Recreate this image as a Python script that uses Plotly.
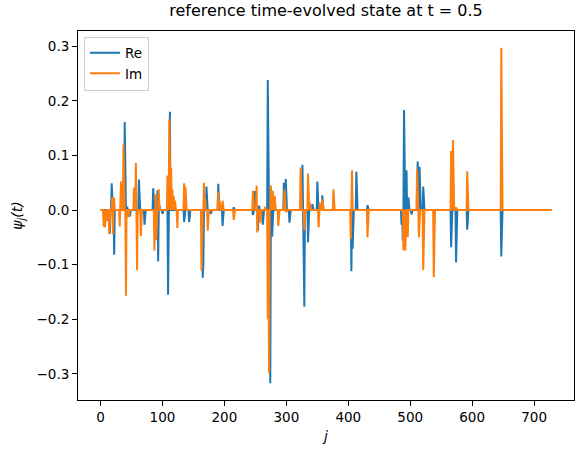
import numpy as np
import plotly.graph_objects as go

N = 729  # number of components j = 0..728

re_idx = [11, 15, 18, 22, 39, 43, 47, 62, 71, 85, 92, 93, 95, 100, 109, 112, 135, 143,
          165, 166, 171, 178, 190, 197, 215, 246, 249, 254, 256, 262, 270, 274, 277, 281,
          296, 299, 305, 326, 329, 335, 342, 350, 358, 405, 407, 413, 431, 486, 488, 490,
          494, 497, 502, 512, 515, 521, 566, 574, 592, 647]
re_val = [-0.020, -0.044, 0.049, -0.082, 0.161, 0.006, -0.012, 0.056, -0.027, 0.040, 0.036,
          -0.094, 0.010, -0.007, -0.155, 0.180, -0.022, -0.022,
          -0.124, -0.100, 0.043, -0.007, 0.048, -0.029, 0.005, -0.009, 0.035, -0.038, 0.008,
          -0.027, 0.238, -0.317, -0.049, 0.023,
          0.050, 0.057, -0.023, 0.083, -0.177, -0.059, 0.011, 0.052, 0.027, -0.112, -0.071,
          0.070, 0.009, -0.027, -0.056, 0.183,
          0.073, 0.023, -0.008, 0.089, 0.079, 0.043, -0.068, -0.096, -0.036, -0.085]

# Nonzero components of the imaginary part (index, value)
im_idx = [5, 7, 11, 14, 19, 20, 22, 31, 33, 37, 41, 45, 54, 57, 59, 65, 87, 89, 90, 94,
          108, 111, 114, 116, 118, 120, 124, 135, 137, 163, 167, 169, 173, 190, 192, 197,
          215, 246, 252, 253, 258, 266, 270, 272, 275, 278, 281, 287, 297, 300, 323, 329,
          335, 338, 352, 354, 358, 376, 404, 406, 431, 489, 492, 496, 511, 514, 521, 538,
          566, 569, 574, 592, 647]
im_val = [-0.030, -0.032, -0.018, -0.044, 0.023, -0.044, 0.023, -0.030, 0.052, 0.120,
          -0.157, -0.013, 0.041, 0.086, -0.110, -0.048, -0.074, 0.029, -0.055, 0.038,
          0.063, 0.166, 0.078, 0.038, 0.026, 0.017, -0.033, 0.049, 0.043, -0.111, 0.050,
          0.020, -0.038, 0.034, 0.017, 0.017,
          -0.018, 0.035, 0.045, -0.041, -0.023, 0.006, -0.200, -0.298, 0.045, 0.035, 0.026,
          -0.029, 0.037, -0.004, 0.078, -0.038,
          0.067, 0.013, -0.032, 0.013, 0.020, 0.038, -0.053, 0.073, -0.050, -0.074, -0.074,
          -0.050, 0.075, -0.050, -0.110, -0.123,
          0.108, 0.128, 0.005, 0.071, 0.297]

j = np.arange(N)
re = np.zeros(N)
im = np.zeros(N)
re[re_idx] = re_val
im[im_idx] = im_val

C_RE = "#1f77b4"
C_IM = "#ff7f0e"
FONT = "DejaVu Sans"

fig = go.Figure()
fig.add_trace(go.Scatter(x=j, y=re, mode="lines", name="Re",
                         line=dict(color=C_RE, width=2)))
fig.add_trace(go.Scatter(x=j, y=im, mode="lines", name="Im",
                         line=dict(color=C_IM, width=2)))

xpad = 0.05 * (N - 1)
ymin = min(re.min(), im.min())
ymax = max(re.max(), im.max())
ypad = 0.05 * (ymax - ymin)

axis_common = dict(showline=True, linecolor="black", linewidth=1, mirror=True,
                   ticks="outside", ticklen=5, tickwidth=1, tickcolor="black",
                   showgrid=False, zeroline=False,
                   tickfont=dict(family=FONT, size=13.5, color="black"))

fig.update_layout(
    width=584, height=457,
    margin=dict(l=78, r=10, t=31, b=57),
    paper_bgcolor="white", plot_bgcolor="white",
    title=dict(text="reference time-evolved state at t = 0.5", x=0.5, xanchor="center",
               xref="paper", y=1, yref="container", yanchor="top", pad=dict(t=5),
               font=dict(family=FONT, size=16, color="black")),
    font=dict(family=FONT, color="black"),
    showlegend=True,
    legend=dict(x=0.012, y=0.985, xanchor="left", yanchor="top",
                bgcolor="rgba(255,255,255,0.8)", bordercolor="#cccccc", borderwidth=1,
                font=dict(family=FONT, size=13.5, color="black"),
                itemwidth=30, tracegroupgap=0),
    xaxis=dict(range=[-xpad, N - 1 + xpad], tickmode="array",
               tickvals=[0, 100, 200, 300, 400, 500, 600, 700],
               title=dict(text="<i>j</i>", font=dict(family=FONT, size=14), standoff=6),
               **axis_common),
    yaxis=dict(range=[ymin - ypad, ymax + ypad], tickmode="array",
               tickvals=[-0.3, -0.2, -0.1, 0.0, 0.1, 0.2, 0.3], tickformat=".1f",
               title=dict(text="<i>ψ<sub>j</sub>(t)</i>", font=dict(family=FONT, size=14),
                          standoff=10),
               **axis_common),
)

fig.write_html("out.html")
